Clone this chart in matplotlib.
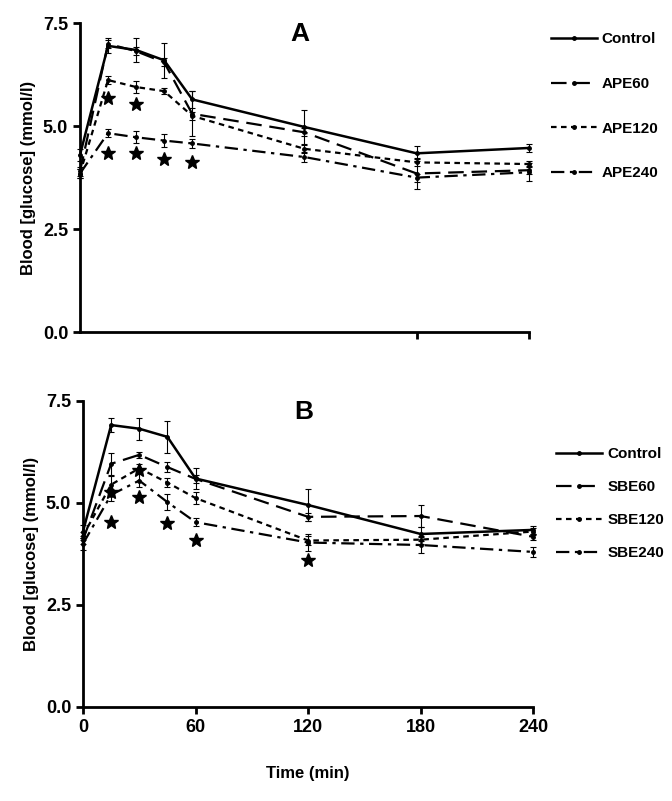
import matplotlib
matplotlib.use("Agg")
import matplotlib.pyplot as plt

plt.rcParams['font.family'] = ['Liberation Sans', 'DejaVu Sans']
plt.rcParams['font.weight'] = 'bold'

# sampling times (min)
t = [0, 15, 30, 45, 60, 120, 180, 240]

# Panel A - APE
ctrl_a = [4.3, 6.95, 6.85, 6.6, 5.65, 4.98, 4.34, 4.47]
ctrl_a_err = [0.15, 0.18, 0.28, 0.42, 0.2, 0.42, 0.18, 0.1]
ape60 = [3.9, 7.0, 6.82, 6.55, 5.3, 4.85, 3.85, 3.93]
ape60_err = [0.1, 0.1, 0.1, 0.1, 0.55, 0.1, 0.38, 0.1]
ape120 = [3.85, 6.12, 5.95, 5.85, 5.25, 4.45, 4.12, 4.08]
ape120_err = [0.1, 0.1, 0.15, 0.08, 0.1, 0.1, 0.08, 0.08]
ape240 = [3.85, 4.83, 4.73, 4.65, 4.58, 4.25, 3.75, 3.88]
ape240_err = [0.1, 0.1, 0.15, 0.15, 0.12, 0.12, 0.1, 0.22]
stars_a_t = [15, 30, 15, 30, 45, 60]
stars_a_y = [5.68, 5.55, 4.35, 4.35, 4.2, 4.13]

# Panel B - SBE
ctrl_b = [4.3, 6.91, 6.82, 6.62, 5.6, 4.95, 4.24, 4.34]
ctrl_b_err = [0.15, 0.18, 0.27, 0.4, 0.25, 0.4, 0.17, 0.1]
sbe60 = [4.1, 5.96, 6.18, 5.88, 5.59, 4.66, 4.68, 4.17]
sbe60_err = [0.1, 0.27, 0.07, 0.12, 0.1, 0.1, 0.27, 0.08]
sbe120 = [4.2, 5.45, 5.85, 5.5, 5.12, 4.08, 4.1, 4.3]
sbe120_err = [0.1, 0.2, 0.1, 0.12, 0.15, 0.1, 0.1, 0.08]
sbe240 = [4.0, 5.2, 5.55, 5.02, 4.53, 4.03, 3.97, 3.8]
sbe240_err = [0.15, 0.15, 0.15, 0.2, 0.1, 0.2, 0.2, 0.12]
stars_b_t = [15, 15, 30, 30, 45, 60, 120]
stars_b_y = [5.27, 4.53, 5.8, 5.15, 4.5, 4.1, 3.6]

styles = ['-', (0, (7, 3.5)), (0, (2.5, 2)), (0, (6, 2.5, 1.5, 2.5))]

fig = plt.figure(figsize=(6.72, 8.01), dpi=100)
ax_a = fig.add_axes([0.119, 0.5855, 0.668, 0.3855])
ax_b = fig.add_axes([0.1235, 0.1174, 0.67, 0.382])


def draw_panel(ax, series, errs, stars_t, stars_y, letter):
    handles = []
    for y, e, ls in zip(series, errs, styles):
        ax.errorbar(t, y, yerr=e, fmt='none', ecolor='k', elinewidth=0.8,
                    capsize=2.5, capthick=0.8, clip_on=False)
        line, = ax.plot(t, y, color='k', lw=1.8 if ls == '-' else 1.6,
                        linestyle=ls, marker='o', ms=2.5, clip_on=False)
        handles.append(line)
    ax.plot(stars_t, stars_y, '*', color='k', ms=10, ls='none')
    ax.set_xlim(0, 240)
    ax.set_ylim(0, 7.5)
    ax.set_yticks([0, 2.5, 5.0, 7.5])
    ax.set_yticklabels(['0.0', '2.5', '5.0', '7.5'])
    for s in ['top', 'right']:
        ax.spines[s].set_visible(False)
    for s in ['left', 'bottom']:
        ax.spines[s].set_linewidth(2)
    ax.tick_params(width=2, length=5, labelsize=13, direction='out')
    ax.set_ylabel('Blood [glucose] (mmol/l)', fontsize=12, fontweight='bold',
                  labelpad=5)
    ax.text(0.49, 0.965, letter, transform=ax.transAxes, fontsize=19,
            fontweight='bold', ha='center', va='center')
    return handles


h_a = draw_panel(ax_a, [ctrl_a, ape60, ape120, ape240],
                 [ctrl_a_err, ape60_err, ape120_err, ape240_err],
                 stars_a_t, stars_a_y, 'A')
ax_a.set_xticks([180, 240])
ax_a.set_xticklabels([])
ax_a.legend(h_a, ['Control', 'APE60', 'APE120', 'APE240'],
            loc='upper left', bbox_to_anchor=(1.05, 0.97), frameon=False,
            fontsize=11, handlelength=3.0, handletextpad=0.3,
            labelspacing=2.0, borderpad=0, borderaxespad=0)

h_b = draw_panel(ax_b, [ctrl_b, sbe60, sbe120, sbe240],
                 [ctrl_b_err, sbe60_err, sbe120_err, sbe240_err],
                 stars_b_t, stars_b_y, 'B')
ax_b.set_xticks([0, 60, 120, 180, 240])
ax_b.set_xlabel('Time (min)', fontsize=12, fontweight='bold', labelpad=22)
ax_b.legend(h_b, ['Control', 'SBE60', 'SBE120', 'SBE240'],
            loc='upper left', bbox_to_anchor=(1.05, 0.85), frameon=False,
            fontsize=11, handlelength=3.0, handletextpad=0.4,
            labelspacing=1.25, borderpad=0, borderaxespad=0)

fig.savefig('out.png', dpi=100)
